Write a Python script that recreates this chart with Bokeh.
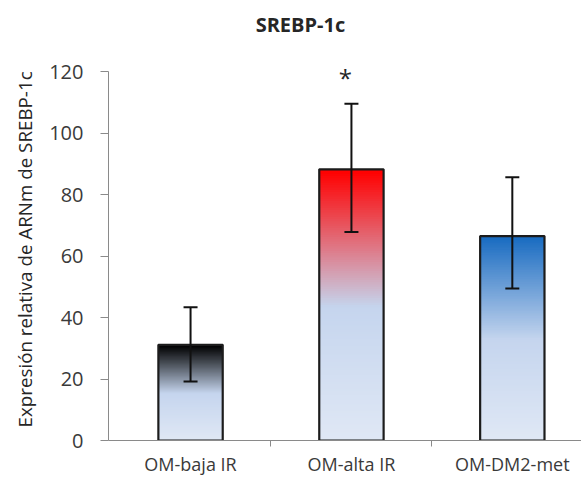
import numpy as np
from bokeh.plotting import figure
from bokeh.models import ColumnDataSource, Whisker, TeeHead, FixedTicker, Label, Range1d, Title
from bokeh.core.properties import value
from bokeh.embed import file_html
from bokeh.resources import INLINE

# SREBP-1c relative mRNA expression per group
categories = ["OM-baja IR", "OM-alta IR", "OM-DM2-met"]
expression = [31.1, 88.2, 66.5]
err_lower = [19.2, 67.8, 49.4]
err_upper = [43.3, 109.5, 85.6]
significance = ["", "*", ""]
y_ticks = [0, 20, 40, 60, 80, 100, 120]
y_axis_max = 120

# gradient colours: bar top -> middle -> base
top_colors = ["#000000", "#ff0000", "#1a6cc1"]
mid_color = "#c5d5ee"
base_color = "#e0e8f5"

FONT = "Open Sans"
BAR_W = 0.40
N_SLICES = 120
MID_STOP = 0.50


def hex_rgb(h):
    h = h.lstrip("#")
    return np.array([int(h[i:i + 2], 16) for i in (0, 2, 4)], dtype=float)


def mix(c1, c2, t):
    r = hex_rgb(c1) * (1 - t) + hex_rgb(c2) * t
    return "#%02x%02x%02x" % tuple(int(round(v)) for v in r)


def gradient_color(top, frac_from_top):
    # top colour fades to pale blue around mid-height, then lightens to the base
    if frac_from_top <= MID_STOP:
        return mix(top, mid_color, frac_from_top / MID_STOP)
    return mix(mid_color, base_color, (frac_from_top - MID_STOP) / (1 - MID_STOP))


xs = list(range(len(categories)))

# thin horizontal slices give each bar its vertical gradient; each slice
# reaches down over the previous one so no seams show between them
sl = dict(left=[], right=[], bottom=[], top=[], color=[])
for x, v, tc in zip(xs, expression, top_colors):
    edges = np.linspace(0, v, N_SLICES + 1)
    step = edges[1] - edges[0]
    for k in range(N_SLICES):
        b, t = edges[k], edges[k + 1]
        frac = 1 - (b + t) / 2 / v
        sl["left"].append(x - BAR_W / 2)
        sl["right"].append(x + BAR_W / 2)
        sl["bottom"].append(max(0.0, b - step))
        sl["top"].append(t)
        sl["color"].append(gradient_color(tc, frac))

bars = ColumnDataSource(dict(x=xs, value=expression, lower=err_lower,
                             upper=err_upper, sig=significance))

# the frame reaches the top edge so the title sits inside it; the y axis
# itself is bounded to 0-120
p = figure(width=581, height=478,
           x_range=Range1d(-0.51, 2.43), y_range=Range1d(0, 143.1),
           output_backend="svg", toolbar_location=None,
           min_border_left=108, min_border_right=0,
           min_border_top=0, min_border_bottom=38)
p.outline_line_color = None
p.xgrid.grid_line_color = None
p.ygrid.grid_line_color = None
p.background_fill_color = "white"
p.border_fill_color = "white"

p.quad(left="left", right="right", bottom="bottom", top="top",
       fill_color="color", line_color=None,
       source=ColumnDataSource(sl))
p.vbar(x="x", top="value", width=BAR_W, bottom=0, fill_color=None,
       line_color="#1c1c1c", line_width=2.2, source=bars)

whisk = Whisker(base="x", upper="upper", lower="lower", source=bars,
                line_color="#111111", line_width=2,
                upper_head=TeeHead(size=14, line_width=2, line_color="#111111"),
                lower_head=TeeHead(size=14, line_width=2, line_color="#111111"))
whisk.level = "annotation"
p.add_layout(whisk)

p.text(x="x", y="upper", text="sig", source=bars, text_align="center",
       text_baseline="alphabetic", y_offset=-26, x_offset=-6,
       text_font=value(FONT), text_font_size="24px", text_color="#262626")

# y axis
ya = p.yaxis[0]
ya.ticker = FixedTicker(ticks=y_ticks)
ya.bounds = (0, y_axis_max)
ya.axis_line_color = "#8a8a8a"
ya.major_tick_line_color = "#8a8a8a"
ya.major_tick_out = 8
ya.major_tick_in = 0
ya.minor_tick_line_color = None
ya.major_label_text_font = FONT
ya.major_label_text_font_size = "20px"
ya.major_label_text_color = "#3a3a3a"
ya.major_label_standoff = 17

# y axis title, set along the 0-120 span of the axis
p.add_layout(Title(text="Expresión relativa de ARNm de SREBP-1c", align="left",
                   offset=13, standoff=18, text_font=FONT,
                   text_font_size="18.8px", text_font_style="normal",
                   text_color="#262626"), "left")

# x axis
xa = p.xaxis[0]
xa.ticker = FixedTicker(ticks=xs, minor_ticks=[0.5, 1.5])
xa.major_label_overrides = {i: c for i, c in zip(xs, categories)}
xa.axis_line_color = "#8a8a8a"
xa.major_tick_line_color = None
xa.minor_tick_line_color = "#8a8a8a"
xa.minor_tick_out = 6
xa.minor_tick_in = 0
xa.major_label_text_font = FONT
xa.major_label_text_font_size = "18px"
xa.major_label_text_color = "#3a3a3a"
xa.major_label_standoff = 5

# chart title
p.add_layout(Label(x=0.683, y=135.3, text="SREBP-1c", text_align="center",
                   text_baseline="alphabetic", text_font=FONT,
                   text_font_size="20px", text_font_style="bold",
                   text_color="#262626"))

open("out.html", "w").write(file_html(p, INLINE))
